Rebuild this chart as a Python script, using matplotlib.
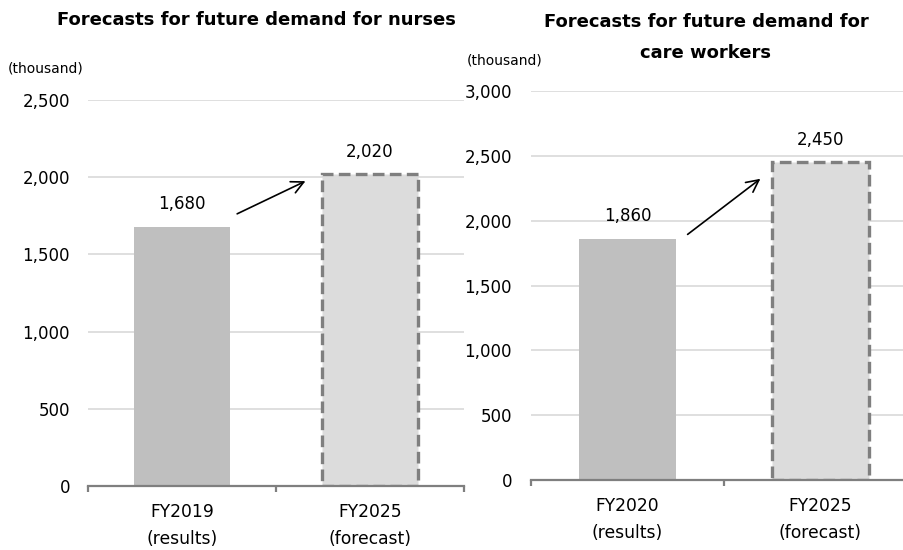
import matplotlib
matplotlib.use("Agg")
import matplotlib.pyplot as plt

# Data
nurse_categories = ["FY2019\n(results)", "FY2025\n(forecast)"]
nurse_values = [1680, 2020]
care_categories = ["FY2020\n(results)", "FY2025\n(forecast)"]
care_values = [1860, 2450]
nurse_ticks = [0, 500, 1000, 1500, 2000, 2500]
care_ticks = [0, 500, 1000, 1500, 2000, 2500, 3000]

W, H = 904, 550
fig = plt.figure(figsize=(W / 100, H / 100), dpi=100)

plt.rcParams['font.family'] = ['DejaVu Sans']

def px_axes(x0, x1, ybot, ytop):
    return fig.add_axes([x0 / W, (H - ybot) / H, (x1 - x0) / W, (ybot - ytop) / H])

def draw(ax, cats, vals, ticks, ymax, width, arrow, label_pad):
    x = [0, 1]
    ax.set_xlim(-0.5, 1.5)
    ax.set_ylim(0, ymax)
    ax.set_axisbelow(True)
    ax.yaxis.grid(True, color="#d9d9d9", lw=1.2)
    ax.bar(x[0], vals[0], width=width, color="#bfbfbf", zorder=2)
    ax.bar(x[1], vals[1], width=width, color="#dcdcdc", edgecolor="#7f7f7f",
           linewidth=2.4, linestyle=(0, (3.5, 1.6)), zorder=2)
    for xi, v in zip(x, vals):
        ax.text(xi, v + ymax * 0.035, f"{v:,}", ha="center", va="bottom", fontsize=12)
    ax.annotate("", xy=arrow[1], xytext=arrow[0],
                arrowprops=dict(arrowstyle="->", lw=1.2, color="black", mutation_scale=22))
    for s in ["top", "right", "left"]:
        ax.spines[s].set_visible(False)
    ax.spines["bottom"].set_color("#7f7f7f")
    ax.spines["bottom"].set_linewidth(1.6)
    ax.set_yticks(ticks)
    ax.set_yticklabels([f"{t:,}" for t in ticks], fontsize=12)
    ax.tick_params(axis="y", length=0, pad=label_pad)
    ax.set_xticks(x)
    ax.set_xticklabels(cats, fontsize=12.3, linespacing=1.65)
    ax.tick_params(axis="x", which="major", length=0, pad=12)
    ax.set_xticks([-0.5, 0.5, 1.5], minor=True)
    ax.tick_params(axis="x", which="minor", length=4, width=1.6, color="#7f7f7f", direction="out")

ax1 = px_axes(88, 464, 486, 100)
draw(ax1, nurse_categories, nurse_values, nurse_ticks, 2500, 0.51,
     ((0.28, 1755), (0.67, 1982)), 13)

ax2 = px_axes(531, 917, 480, 91)
ax2.set_facecolor("white")
draw(ax2, care_categories, care_values, care_ticks, 3000, 0.50,
     ((0.30, 1881), (0.70, 2336)), 13.7)

fig.text(256 / W, 1 - 20 / H, "Forecasts for future demand for nurses",
         ha="center", va="center", fontsize=13, fontweight="bold")
fig.text(706 / W, 1 - 22 / H, "Forecasts for future demand for",
         ha="center", va="center", fontsize=13, fontweight="bold")
fig.text(706 / W, 1 - 53 / H, "care workers",
         ha="center", va="center", fontsize=13, fontweight="bold")
fig.text(8 / W, 1 - 68 / H, "(thousand)", ha="left", va="center", fontsize=10)
fig.text(467 / W, 1 - 61 / H, "(thousand)", ha="left", va="center", fontsize=10)

fig.savefig("out.png", dpi=100)
